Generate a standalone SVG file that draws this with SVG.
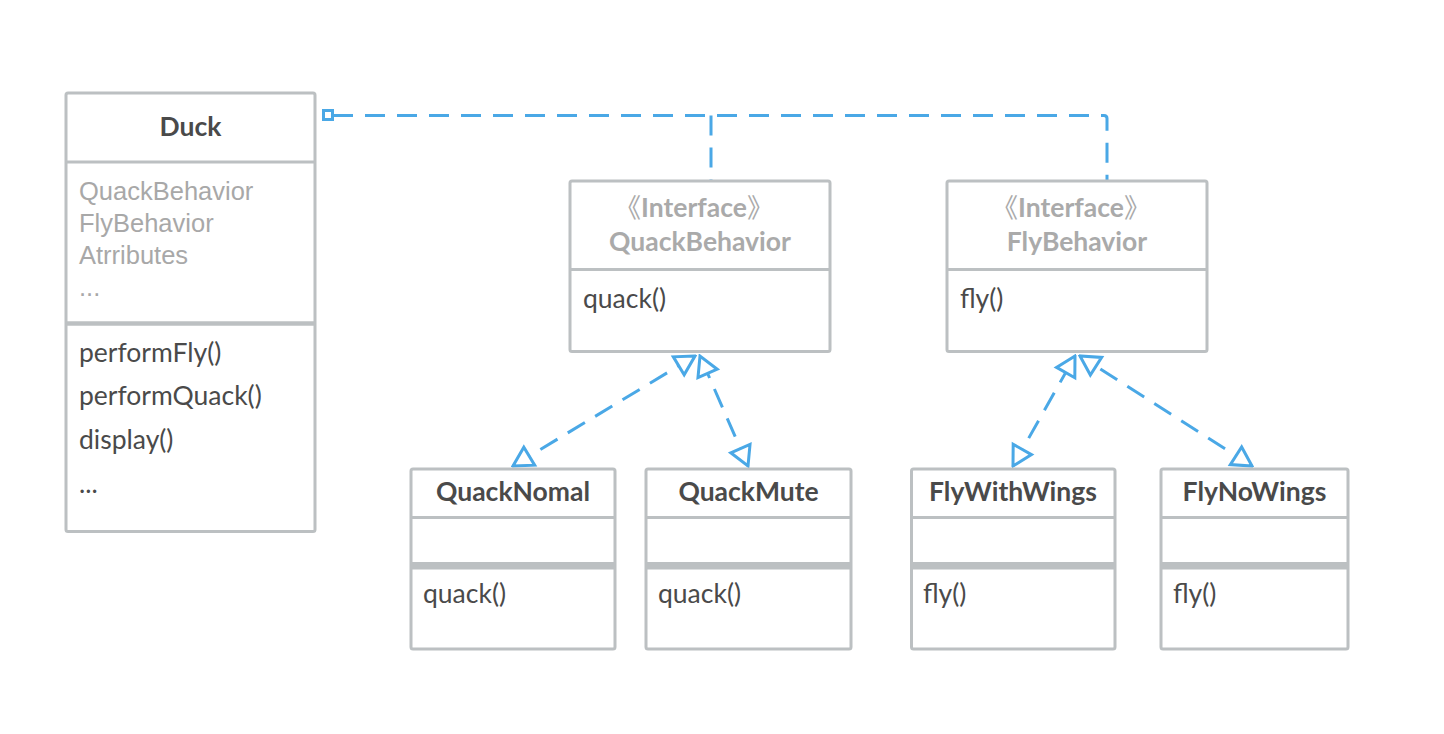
<svg xmlns="http://www.w3.org/2000/svg" width="1444" height="734" viewBox="0 0 1444 734">
<style>
.box{fill:#fff;stroke:#bcc0c2;stroke-width:3}
.div{stroke:#bcc0c2;stroke-width:3}
.band{fill:#bcc0c2}
.title{font-family:Lato,"Noto Sans",sans-serif;font-weight:bold;font-size:26.5px;fill:#4a4a4a;text-anchor:middle}
.ititle{font-family:Lato,"Noto Sans",sans-serif;font-weight:bold;font-size:26.5px;fill:#aaaaaa;text-anchor:middle}
.br{font-family:"Noto Sans CJK SC",sans-serif;font-weight:normal}
.attr{font-family:"Liberation Sans",Arial,sans-serif;font-size:25.5px;fill:#a8a8a8}
.meth{font-family:Lato,"Noto Sans",sans-serif;font-size:26.5px;fill:#4a4a4a}
.conn{fill:none;stroke:#4aa8e6;stroke-width:3;stroke-dasharray:20 12}
</style>
<defs>
<marker id="tri" markerUnits="userSpaceOnUse" viewBox="-24 -14 26 28" refX="0" refY="0" markerWidth="26" markerHeight="28" orient="auto-start-reverse">
<path d="M0,0 L-19,-10.5 L-19,10.5 Z" fill="#fff" stroke="#4aa8e6" stroke-width="3" stroke-linejoin="miter"/>
</marker>
</defs>
<rect width="1444" height="734" fill="#fff"/>
<g id="connectors">
<path class="conn" d="M333,115.5 H1104 Q1107,115.5 1107,118.5 V181"/>
<path class="conn" d="M711,115.5 V181"/>
<rect x="323.5" y="110.5" width="9" height="9" fill="#fff" stroke="#4aa8e6" stroke-width="3"/>
<path class="conn" d="M513,466 L695,356" marker-start="url(#tri)" marker-end="url(#tri)"/>
<path class="conn" d="M748,466 L700,356" marker-start="url(#tri)" marker-end="url(#tri)"/>
<path class="conn" d="M1013,466 L1075,356" marker-start="url(#tri)" marker-end="url(#tri)"/>
<path class="conn" d="M1252,466 L1080,356" marker-start="url(#tri)" marker-end="url(#tri)"/>
</g>
<g id="duck">
<rect class="box" x="66" y="93" width="249" height="438.5" rx="2"/>
<line class="div" x1="66" y1="162" x2="315" y2="162"/>
<line class="div" x1="66" y1="323.5" x2="315" y2="323.5" style="stroke-width:4.5"/>
<text class="title" x="190.5" y="136">Duck</text>
<text class="attr" x="79" y="200">QuackBehavior</text>
<text class="attr" x="79" y="232">FlyBehavior</text>
<text class="attr" x="79" y="264">Atrributes</text>
<text class="attr" x="79" y="296">...</text>
<text class="meth" x="79" y="362">performFly()</text>
<text class="meth" x="79" y="405">performQuack()</text>
<text class="meth" x="79" y="449">display()</text>
<text class="meth" x="79" y="493">...</text>
</g>
<g id="quackbehavior">
<rect class="box" x="570" y="181" width="260" height="170.5" rx="2"/>
<line class="div" x1="570" y1="269.5" x2="830" y2="269.5"/>
<text class="ititle" x="694" y="217"><tspan class="br">《</tspan>Interface<tspan class="br">》</tspan></text>
<text class="ititle" x="700" y="251">QuackBehavior</text>
<text class="meth" x="583" y="308">quack()</text>
</g>
<g id="flybehavior">
<rect class="box" x="947" y="181" width="260" height="170.5" rx="2"/>
<line class="div" x1="947" y1="269.5" x2="1207" y2="269.5"/>
<text class="ititle" x="1071" y="217"><tspan class="br">《</tspan>Interface<tspan class="br">》</tspan></text>
<text class="ititle" x="1077" y="251">FlyBehavior</text>
<text class="meth" x="960" y="308">fly()</text>
</g>
<g id="quacknomal">
<rect class="box" x="411" y="469" width="204" height="180" rx="2"/>
<line class="div" x1="411" y1="517.5" x2="615" y2="517.5"/>
<rect class="band" x="411" y="562" width="204" height="7.5"/>
<text class="title" x="513" y="501">QuackNomal</text>
<text class="meth" x="423" y="603">quack()</text>
</g>
<g id="quackmute">
<rect class="box" x="646" y="469" width="205" height="180" rx="2"/>
<line class="div" x1="646" y1="517.5" x2="851" y2="517.5"/>
<rect class="band" x="646" y="562" width="205" height="7.5"/>
<text class="title" x="748.5" y="501">QuackMute</text>
<text class="meth" x="658" y="603">quack()</text>
</g>
<g id="flywithwings">
<rect class="box" x="911.5" y="469" width="203.5" height="180" rx="2"/>
<line class="div" x1="911.5" y1="517.5" x2="1115" y2="517.5"/>
<rect class="band" x="911.5" y="562" width="203.5" height="7.5"/>
<text class="title" x="1013" y="501">FlyWithWings</text>
<text class="meth" x="923" y="603">fly()</text>
</g>
<g id="flynowings">
<rect class="box" x="1161" y="469" width="187" height="180" rx="2"/>
<line class="div" x1="1161" y1="517.5" x2="1348" y2="517.5"/>
<rect class="band" x="1161" y="562" width="187" height="7.5"/>
<text class="title" x="1254.5" y="501">FlyNoWings</text>
<text class="meth" x="1173" y="603">fly()</text>
</g>
</svg>
